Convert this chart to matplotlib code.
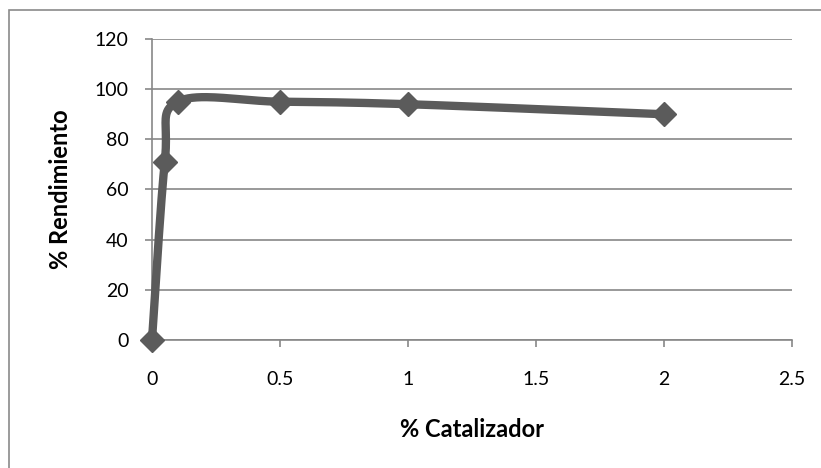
import numpy as np
import matplotlib.pyplot as plt
from matplotlib.patches import Rectangle

# data
catalizador = [0, 0.05, 0.1, 0.5, 1, 2]
rendimiento = [0, 71, 95, 95, 94, 90]

x_ticks = [0, 0.5, 1, 1.5, 2, 2.5]
y_ticks = [0, 20, 40, 60, 80, 100, 120]

LINE = '#5b5b5b'
GRID = '#878787'


def smooth_curve(xs, ys, steps=40):
    """Excel style smoothed line: cubic Bezier segments through the points."""
    px = np.array(xs, dtype=float)
    py = np.array(ys, dtype=float)
    n = len(px)
    out_x, out_y = [], []
    t = np.linspace(0, 1, steps)
    for i in range(n - 1):
        p0 = np.array([px[max(i - 1, 0)], py[max(i - 1, 0)]])
        p1 = np.array([px[i], py[i]])
        p2 = np.array([px[i + 1], py[i + 1]])
        p3 = np.array([px[min(i + 2, n - 1)], py[min(i + 2, n - 1)]])
        c1 = p1 + (p2 - p0) / 6.0
        c2 = p2 - (p3 - p1) / 6.0
        b = ((1 - t) ** 3)[:, None] * p1 + (3 * (1 - t) ** 2 * t)[:, None] * c1 \
            + (3 * (1 - t) * t ** 2)[:, None] * c2 + (t ** 3)[:, None] * p2
        out_x.extend(b[:, 0])
        out_y.extend(b[:, 1])
    return out_x, out_y


plt.rcParams['font.family'] = ['Lato', 'DejaVu Sans']

fig = plt.figure(figsize=(8.21, 4.68), dpi=100)
ax = fig.add_axes([152 / 821, 1 - 340 / 468, 640 / 821, 301 / 468])

# outer chart frame (runs off the right and bottom edges)
fig.patches.append(Rectangle((9 / 821, -0.1), 1.2, 1 - 10 / 468 + 0.1,
                             transform=fig.transFigure, fill=False,
                             edgecolor='#8a8a8a', linewidth=1.2))

sx, sy = smooth_curve(catalizador, rendimiento)
ax.plot(sx, sy, color=LINE, linewidth=6, solid_capstyle='round', zorder=3,
        clip_on=False)
ax.plot(catalizador, rendimiento, linestyle='none', marker='D', markersize=12.5,
        color=LINE, zorder=4, clip_on=False)

ax.set_xlim(0, 2.5)
ax.set_ylim(0, 120)
ax.set_xticks(x_ticks)
ax.set_xticklabels(['0', '0.5', '1', '1.5', '2', '2.5'])
ax.set_yticks(y_ticks)
ax.grid(axis='y', color=GRID, linewidth=1.2)
ax.set_axisbelow(True)

for side in ['top', 'right']:
    ax.spines[side].set_visible(False)
for side in ['left', 'bottom']:
    ax.spines[side].set_color(GRID)
    ax.spines[side].set_linewidth(1.2)

ax.tick_params(axis='both', colors=GRID, length=5, width=1.2,
               labelsize=14, labelcolor='black')
ax.tick_params(axis='x', pad=17)
ax.tick_params(axis='y', pad=12)

ax.set_xlabel('% Catalizador', fontsize=17, fontweight='bold', labelpad=22)
ax.set_ylabel('% Rendimiento', fontsize=17, fontweight='bold', labelpad=16)

fig.savefig('out.png', dpi=100)
